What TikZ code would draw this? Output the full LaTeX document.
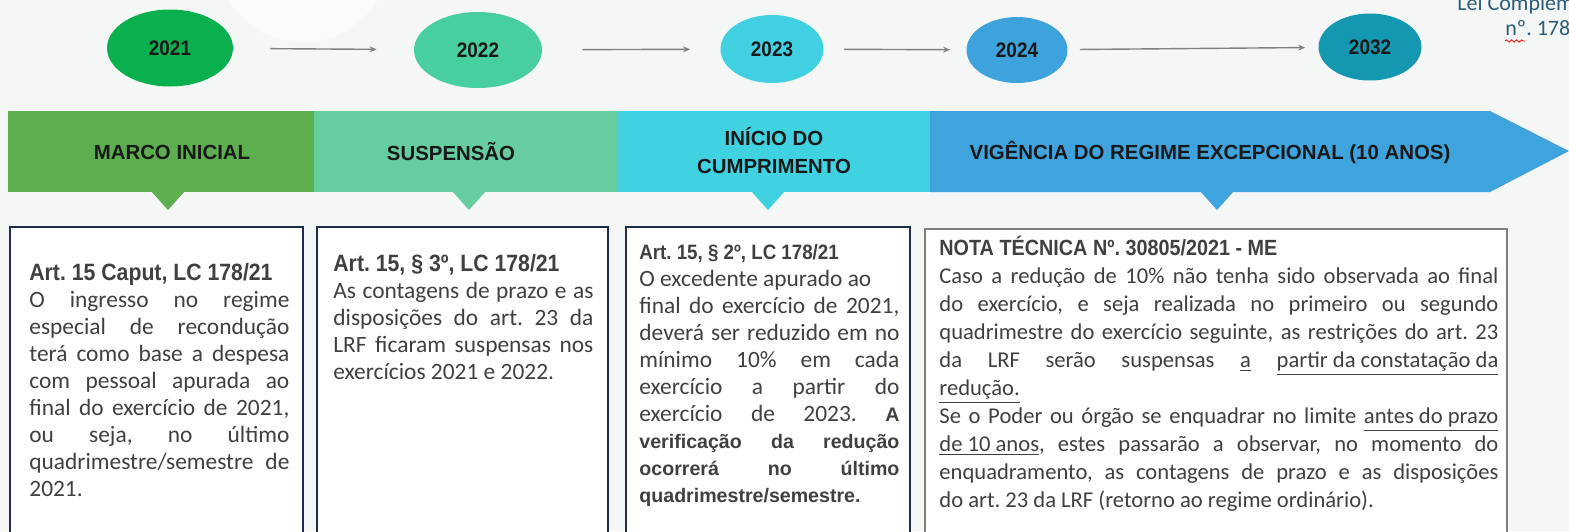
\documentclass[tikz,border=0pt]{standalone}
\usepackage{fontspec}
\setmainfont{Carlito}
\newfontfamily\arialfont{Liberation Sans}
\newfontfamily\narrowfont{Liberation Sans}[FakeStretch=0.9]
\usetikzlibrary{shapes.geometric,arrows.meta,decorations.pathmorphing}

\definecolor{yearA}{HTML}{0BB04E}
\definecolor{yearB}{HTML}{48CF9F}
\definecolor{yearC}{HTML}{41D0E1}
\definecolor{yearD}{HTML}{3EA2DD}
\definecolor{yearE}{HTML}{1497B0}
\definecolor{bandA}{HTML}{5DAE4F}
\definecolor{bandB}{HTML}{66CDA0}
\definecolor{bandC}{HTML}{41D2E2}
\definecolor{bandD}{HTML}{3FA3DE}
\definecolor{frameblue}{HTML}{1F2C4A}
\definecolor{framegray}{HTML}{7F7F7F}
\definecolor{bodygray}{HTML}{404040}
\definecolor{leiblue}{HTML}{2D5E78}
\definecolor{bggray}{HTML}{F5F6F6}

\setlength{\parindent}{0pt}
\frenchspacing
\hyphenpenalty=10000
\exhyphenpenalty=10000
\tolerance=10000
\hbadness=10000

\newcommand{\lawhead}[2]{{\narrowfont\bfseries\fontsize{#1}{13.5}\selectfont #2}}
\newcommand{\boldbody}[1]{{\arialfont\bfseries\fontsize{9.8}{13.5}\selectfont #1}}

\begin{document}
\begin{tikzpicture}[x=0.5pt,y=-0.5pt,
	year/.style={ellipse,inner sep=0pt,font=\narrowfont\bfseries\fontsize{10.5}{12}\selectfont,text=black!90},
	link/.style={draw=black!50,line width=0.7pt,-{Stealth[length=3.5pt,width=3pt]}},
	band/.style={font=\arialfont\bfseries\fontsize{10.2}{14}\selectfont,text=black!90,align=center},
	panel/.style={line width=1.1pt,draw=frameblue,fill=white},
	panelnote/.style={anchor=north west,inner sep=0pt,text width=130pt,align=justify,text=bodygray,font=\fontsize{11.7}{13.5}\selectfont}]
	\useasboundingbox (0,0) rectangle (1569,531);
	\clip (0,0) rectangle (1569,531);
	\fill[bggray] (0,0) rectangle (1569,531);
	\fill[white,opacity=0.5] (303,-45) circle (87);

	\fill[bandA] (8,111) rectangle (314,192);
	\fill[bandB] (314,111) rectangle (618,192);
	\fill[bandC] (618,111) rectangle (930,192);
	\fill[bandD] (930,111) -- (1490,111) -- (1569,151) -- (1490,192) -- (930,192) -- cycle;
	\fill[bandA] (151,191) -- (185,191) -- (168,210) -- cycle;
	\fill[bandB] (452,191) -- (486,191) -- (469,210) -- cycle;
	\fill[bandC] (751,191) -- (785,191) -- (768,210) -- cycle;
	\fill[bandD] (1200,191) -- (1234,191) -- (1217,210) -- cycle;

	\node[band] (marco) at (172,152) {MARCO INICIAL};
	\node[band] (suspensao) at (451,152) {SUSPENSÃO};
	\node[band] (inicio) at (774,151) {INÍCIO DO\\CUMPRIMENTO};
	\node[band] (vigencia) at (1210,152) {VIGÊNCIA DO REGIME EXCEPCIONAL (10 ANOS)};

	\draw[panel] (10,227) rectangle (303,545);
	\draw[panel] (317,227) rectangle (608,545);
	\draw[panel] (626,227) rectangle (910,545);
	\draw[panel,draw=framegray,line width=0.8pt] (925,229) rectangle (1507,545);

	\node[panelnote] (caput) at (29,263) {\lawhead{11.8}{Art. 15 Caput, LC 178/21}\\
		O ingresso no regime\linebreak especial de recondução\linebreak terá como base a despesa\linebreak com pessoal apurada ao\linebreak final do exercício de 2021,\linebreak ou seja, no último\linebreak quadrimestre/semestre de\linebreak 2021.};
	\node[panelnote] (paragrafo3) at (333,254) {\lawhead{11.8}{Art. 15, § 3º, LC 178/21}\\
		As contagens de prazo e as\linebreak disposições do art. 23 da\linebreak LRF ficaram suspensas nos\linebreak exercícios 2021 e 2022.};
	\node[panelnote] (paragrafo2) at (639,244) {\lawhead{10.4}{Art. 15, § 2º, LC 178/21}\\
		O excedente apurado ao\\ final do exercício de 2021,\linebreak deverá ser reduzido em no\linebreak mínimo 10\% em cada\linebreak exercício a partir do\linebreak exercício de 2023. \boldbody{A}\linebreak
		\boldbody{verificação da redução\linebreak ocorrerá no último\linebreak quadrimestre/semestre.}};
	\node[panelnote,text width=279.5pt,font=\fontsize{11.3}{14}\selectfont] (notatecnica) at (939,236) {\lawhead{11}{NOTA TÉCNICA Nº. 30805/2021 - ME}\\
		Caso a redução de 10\% não tenha sido observada ao final\linebreak do exercício, e seja realizada no primeiro ou segundo\linebreak quadrimestre do exercício seguinte, as restrições do art. 23\linebreak da LRF serão suspensas \underline{a} \underline{partir da constatação da}\linebreak \underline{redução.}\\
		Se o Poder ou órgão se enquadrar no limite \underline{antes do prazo}\linebreak \underline{de 10 anos}, estes passarão a observar, no momento do\linebreak enquadramento, as contagens de prazo e as disposições\linebreak do art. 23 da LRF (retorno ao regime ordinário).};

	\node[year,fill=yearA,minimum width=63pt,minimum height=38.5pt] (y2021) at (170,48) {2021};
	\node[year,fill=yearB,minimum width=64pt,minimum height=38pt] (y2022) at (478,50) {2022};
	\node[year,fill=yearC,minimum width=51.5pt,minimum height=34pt] (y2023) at (772,49) {2023};
	\node[year,fill=yearD,minimum width=50.5pt,minimum height=33pt] (y2024) at (1017,50) {2024};
	\node[year,fill=yearE,minimum width=51.5pt,minimum height=33.5pt] (y2032) at (1370,47) {2032};
	\draw[link,shorten <=18.5pt,shorten >=18.5pt] (y2021) -- (y2022);
	\draw[link,shorten <=20pt,shorten >=15pt] (y2022) -- (y2023);
	\draw[link,shorten <=10pt,shorten >=8pt] (y2023) -- (y2024);
	\draw[link,shorten <=6pt,shorten >=6.5pt] (y2024) -- (y2032);

	\node[anchor=base west,inner sep=0pt,text=leiblue,font=\fontsize{11}{13}\selectfont] (lei) at (1457,10) {Lei Complementar};
	\node[anchor=base west,inner sep=0pt,text=leiblue,font=\fontsize{11}{13}\selectfont] (leinum) at (1505,35) {nº. 178};
	\draw[red,line width=0.4pt,decorate,decoration={snake,amplitude=0.6pt,segment length=2.5pt}] ([yshift=-3pt]leinum.base west) -- ++(20,0);
\end{tikzpicture}
\end{document}
